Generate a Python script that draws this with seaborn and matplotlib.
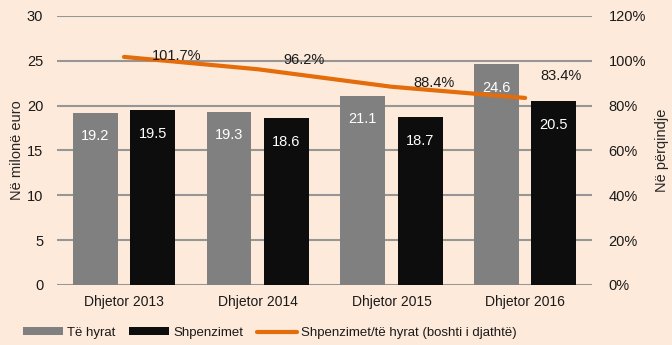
import numpy as np
import pandas as pd
import matplotlib
matplotlib.use("Agg")
import matplotlib.pyplot as plt
import seaborn as sns
from matplotlib.ticker import PercentFormatter, MultipleLocator
from matplotlib.patches import Patch
from matplotlib.lines import Line2D

# Data (millions of euro, and spending as % of income)
categories = ["Dhjetor 2013", "Dhjetor 2014", "Dhjetor 2015", "Dhjetor 2016"]
income = [19.2, 19.3, 21.1, 24.6]
spending = [19.5, 18.6, 18.7, 20.5]
ratio = [101.7, 96.2, 88.4, 83.4]
series_names = ["Të hyrat", "Shpenzimet"]
ratio_name = "Shpenzimet/të hyrat (boshti i djathtë)"

# Ratio label offsets in points (dx, dy)
ratio_label_offsets = [(38, 1), (33, 7), (31, 3), (26, 16)]

BG = "#FDEADA"
GRAY = "#808080"
BLACK = "#0D0D0D"
ORANGE = "#E46C0A"
GRID = "#969696"

sns.set_theme(style="white")
plt.rcParams["font.family"] = ["Liberation Sans", "DejaVu Sans"]
plt.rcParams["font.size"] = 9.5
plt.rcParams["text.color"] = "#1A1A1A"

df = pd.DataFrame({
    "period": categories * 2,
    "series": [series_names[0]] * len(categories) + [series_names[1]] * len(categories),
    "value": income + spending,
})

fig = plt.figure(figsize=(6.72, 3.45), dpi=100, facecolor=BG)
ax = fig.add_axes([0.085, 0.174, 0.796, 0.78])
ax.set_facecolor(BG)

sns.barplot(data=df, x="period", y="value", hue="series", order=categories,
            hue_order=series_names, palette=[GRAY, BLACK], width=0.86, gap=0.22,
            saturation=1, errorbar=None, legend=False, linewidth=0, ax=ax)

for cont in ax.containers:
    ax.bar_label(cont, labels=[f"{v:.1f}" for v in cont.datavalues],
                 label_type="edge", padding=-22, color="white", fontsize=10.5)

ax.set_ylim(0, 30)
ax.yaxis.set_major_locator(MultipleLocator(5))
ax.set_axisbelow(True)
ax.yaxis.grid(True, color=GRID, linewidth=1.5)
ax.xaxis.grid(False)
for s in ax.spines.values():
    s.set_visible(False)
ax.tick_params(axis="y", length=0, pad=10, labelsize=10.5, labelcolor="#1A1A1A")
ax.tick_params(axis="x", length=0, pad=7, labelsize=10, labelcolor="#1A1A1A")
ax.set_xlabel("")
ax.set_ylabel("Në milonë euro", fontsize=10.5, labelpad=2)

# Ratio line on the secondary axis
ax2 = ax.twinx()
xpos = np.arange(len(categories))
ratio_frac = np.array(ratio) / 100
sns.lineplot(x=xpos, y=ratio_frac, color=ORANGE, linewidth=3, ax=ax2)
ax2.set_ylim(0, 1.2)
ax2.yaxis.set_major_locator(MultipleLocator(0.2))
ax2.yaxis.set_major_formatter(PercentFormatter(1.0, decimals=0))
for s in ax2.spines.values():
    s.set_visible(False)
ax2.tick_params(axis="y", length=0, pad=12, labelsize=10.5, labelcolor="#1A1A1A")
ax2.set_ylabel("Në përqindje", fontsize=10.5, labelpad=6)
ax2.set_xlim(-0.5, len(categories) - 0.5)

for x, y, v, (dx, dy) in zip(xpos, ratio_frac, ratio, ratio_label_offsets):
    ax2.annotate(f"{v:.1f}%", (x, y), xytext=(dx, dy), textcoords="offset points",
                 ha="center", va="center", fontsize=10.5)

handles = [
    Patch(facecolor=GRAY, edgecolor="none"),
    Patch(facecolor=BLACK, edgecolor="none"),
    Line2D([], [], color=ORANGE, linewidth=3),
]
fig.legend(handles, series_names + [ratio_name], loc="center left",
           bbox_to_anchor=(23 / 672, 12 / 345), ncol=3, frameon=False,
           handlelength=3.0, handleheight=0.55, handletextpad=0.3,
           columnspacing=1.1, borderpad=0, borderaxespad=0, fontsize=9.5)

fig.savefig("out.png", dpi=100, facecolor=BG)
